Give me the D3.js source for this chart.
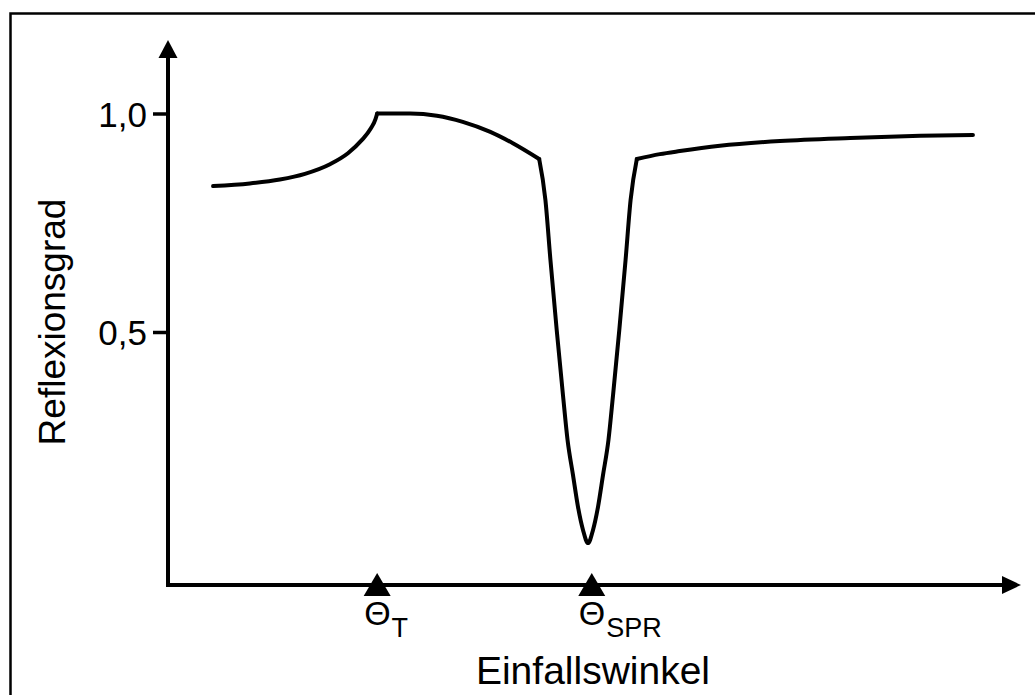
<!DOCTYPE html>
<html>
<head>
<meta charset="utf-8">
<script src="https://cdn.jsdelivr.net/npm/d3@7"></script>
<style>
  html, body { margin: 0; padding: 0; background: #fff; }
  svg { display: block; }
  text { font-family: "Liberation Sans", Arial, sans-serif; fill: #000; }
</style>
</head>
<body>
<svg id="chart" width="1035" height="695"></svg>
<script>
// ---- data (x: angle in arbitrary units 0..100, y: Reflexionsgrad) ----
const seg1X = [5.4, 9.8, 13.4, 16.4, 19.4, 21.55, 23.2, 24.3, 24.85, 25.05];
const seg1Y = [0.834, 0.840, 0.849, 0.862, 0.884, 0.909, 0.939, 0.966, 0.987, 1.0];

const seg2X = [25.05, 29.0, 32.2, 35.3, 38.6, 41.3, 44.45];
const seg2Y = [1.0, 1.0, 0.995, 0.981, 0.958, 0.932, 0.896];

const seg3X = [44.45, 45.2, 45.8, 46.55, 47.3, 47.85, 48.5, 49.1, 49.7, 50.3, 50.9, 51.5, 52.1, 52.75, 53.3, 54.05, 54.8, 55.4, 56.15];
const seg3Y = [0.896, 0.802, 0.665, 0.505, 0.356, 0.253, 0.173, 0.100, 0.047, 0.017, 0.047, 0.100, 0.173, 0.253, 0.356, 0.505, 0.665, 0.802, 0.896];

const seg4X = [56.15, 58.9, 61.3, 66.1, 73.3, 81.7, 90.1, 96.4];
const seg4Y = [0.896, 0.907, 0.914, 0.926, 0.937, 0.944, 0.949, 0.951];

const yTickValues = [0.5, 1.0];
const yTickLabels = ["0,5", "1,0"];

const markerX = [25.05, 50.75];
const markerMain = ["\u0398", "\u0398"];
const markerSub = ["T", "SPR"];

const xLabel = "Einfallswinkel";
const yLabel = "Reflexionsgrad";

// ---- layout ----
const svg = d3.select("#chart");
const axisX0 = 168, axisY0 = 585;
const x = d3.scaleLinear().domain([0, 100]).range([168, 1003]);
const y = d3.scaleLinear().domain([0, 1]).range([550.5, 113.5]);

// outer frame (only top/left visible)
svg.append("rect")
  .attr("x", 10.5).attr("y", 13.5)
  .attr("width", 1100).attr("height", 800)
  .attr("fill", "none").attr("stroke", "#000").attr("stroke-width", 2.5);

// axes lines
svg.append("line")
  .attr("x1", axisX0).attr("y1", axisY0 + 2)
  .attr("x2", axisX0).attr("y2", 56)
  .attr("stroke", "#000").attr("stroke-width", 4);
svg.append("line")
  .attr("x1", axisX0 - 2).attr("y1", axisY0)
  .attr("x2", 1004).attr("y2", axisY0)
  .attr("stroke", "#000").attr("stroke-width", 4);

// arrowheads
svg.append("path")
  .attr("d", `M${axisX0},40 L${axisX0 - 9.5},58 L${axisX0 + 9.5},58 Z`)
  .attr("fill", "#000");
svg.append("path")
  .attr("d", `M1021,${axisY0} L1002,${axisY0 - 9} L1002,${axisY0 + 9} Z`)
  .attr("fill", "#000");

// y ticks via d3 axis
const yAxis = d3.axisLeft(y)
  .tickValues(yTickValues)
  .tickSize(15)
  .tickPadding(6)
  .tickFormat((d, i) => yTickLabels[i]);
const gy = svg.append("g").attr("transform", `translate(${axisX0},0)`).call(yAxis);
gy.select(".domain").remove();
gy.selectAll(".tick line").attr("stroke", "#000").attr("stroke-width", 3.5);
gy.selectAll(".tick text")
  .style("font-family", "'Liberation Sans', Arial, sans-serif")
  .style("font-size", "35px")
  .attr("fill", "#000")
  .attr("dy", "0.36em");

// curve segments
const line = d3.line()
  .x(d => x(d[0]))
  .y(d => y(d[1]))
  .curve(d3.curveMonotoneX);
[[seg1X, seg1Y], [seg2X, seg2Y], [seg3X, seg3Y], [seg4X, seg4Y]].forEach(([xs, ys]) => {
  svg.append("path")
    .datum(xs.map((v, i) => [v, ys[i]]))
    .attr("d", line)
    .attr("fill", "none")
    .attr("stroke", "#000")
    .attr("stroke-width", 4)
    .attr("stroke-linejoin", "round")
    .attr("stroke-linecap", "round");
});

// markers on x axis
markerX.forEach((mx, i) => {
  const cx = x(mx);
  svg.append("path")
    .attr("d", `M${cx},573 L${cx - 13.5},596 L${cx + 13.5},596 Z`)
    .attr("fill", "#000");
  const t = svg.append("text")
    .attr("x", cx - 13)
    .attr("y", 625)
    .style("font-size", "34px");
  t.append("tspan").text(markerMain[i]);
  t.append("tspan").attr("dy", 12).attr("dx", 1).style("font-size", "27px").text(markerSub[i]);
});

// axis labels
svg.append("text")
  .attr("x", 593).attr("y", 684)
  .attr("text-anchor", "middle")
  .style("font-size", "39px")
  .text(xLabel);
svg.append("text")
  .attr("transform", "translate(65,322) rotate(-90)")
  .attr("text-anchor", "middle")
  .style("font-size", "37px")
  .text(yLabel);
</script>
</body>
</html>
